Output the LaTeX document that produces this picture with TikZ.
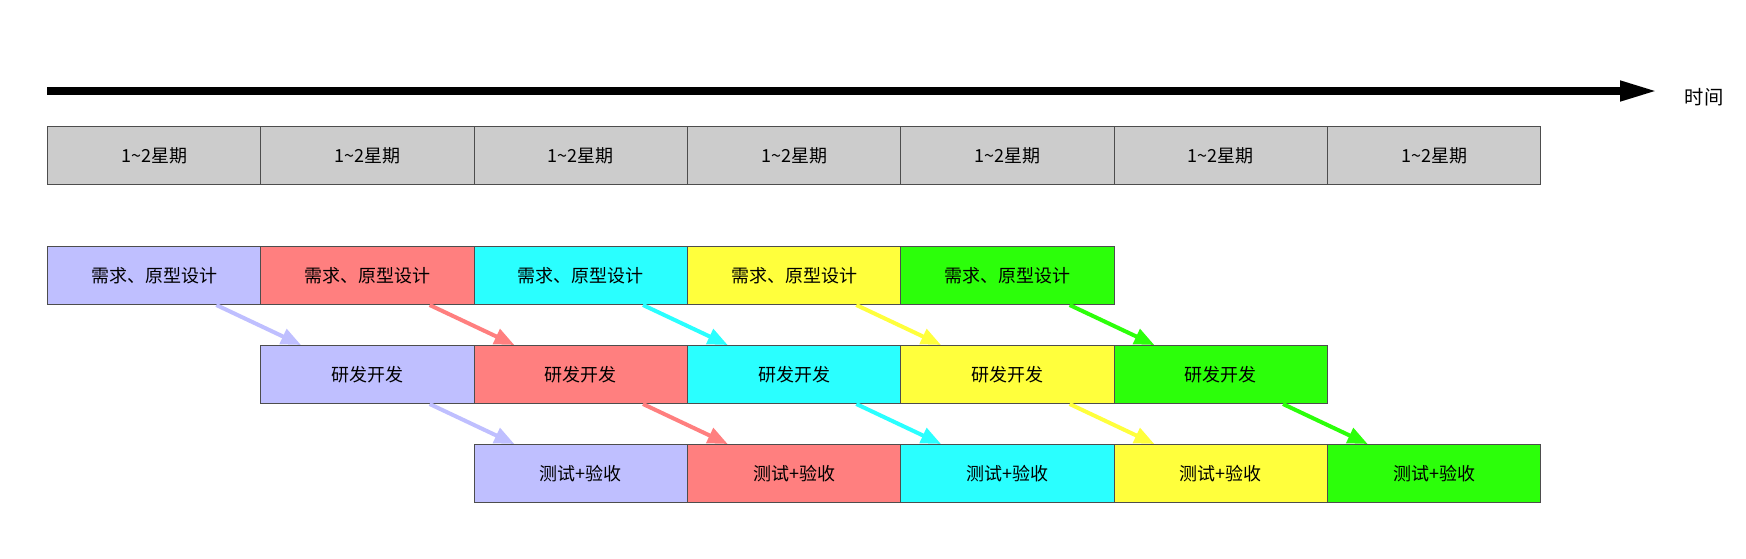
\documentclass[tikz,border=0pt]{standalone}
\usepackage{fontspec}
\setmainfont{Noto Sans CJK SC}
\usetikzlibrary{arrows.meta,calc}
\definecolor{cgray}{HTML}{CCCCCC}
\definecolor{cA}{HTML}{BFBFFF}
\definecolor{cB}{HTML}{FF7F7F}
\definecolor{cC}{HTML}{2AFFFF}
\definecolor{cD}{HTML}{FFFF3C}
\definecolor{cE}{HTML}{2CFF0A}
\definecolor{boxline}{HTML}{4D4D4D}
\begin{document}
\begin{tikzpicture}[x=0.75pt,y=-0.75pt,
  box/.style={draw=boxline, line width=0.75pt, minimum width=160pt, minimum height=43.5pt,
    anchor=north west, inner sep=0pt, font=\fontsize{13.5}{16}\selectfont},
  flow/.style={line width=3pt, -{Triangle[length=15pt,width=12pt]}, shorten <=0pt},
  timeline/.style={line width=6pt, -{Triangle[length=28.5pt,width=14pt]}}]
\useasboundingbox (0,0) rectangle (1746,558);
% timeline
\coordinate (ts) at (47,91);
\coordinate (te) at (1658,91);
\draw[timeline] (ts) -- (te);
\node[font=\fontsize{14.5}{17}\selectfont] (tl) at (1704,97) {时间};
% week boxes
\foreach \i in {0,...,6}{
  \node[box, fill=cgray] (g\i) at ({47+213.33*\i},126) {1\textasciitilde2星期};
}
% rows
\foreach \i/\c in {0/cA,1/cB,2/cC,3/cD,4/cE}{
  \node[box, fill=\c] (a\i) at ({47+213.33*\i},246) {需求、原型设计};
  \node[box, fill=\c] (b\i) at ({47+213.33*(\i+1)},345) {研发开发};
  \node[box, fill=\c] (c\i) at ({47+213.33*(\i+2)},444) {测试+验收};
  \draw[flow, draw=\c, fill=\c] ($(a\i.south west)!0.79!(a\i.south east)$) -- ($(b\i.north west)!0.19!(b\i.north east)$);
  \draw[flow, draw=\c, fill=\c] ($(b\i.south west)!0.79!(b\i.south east)$) -- ($(c\i.north west)!0.19!(c\i.north east)$);
}
\end{tikzpicture}
\end{document}
